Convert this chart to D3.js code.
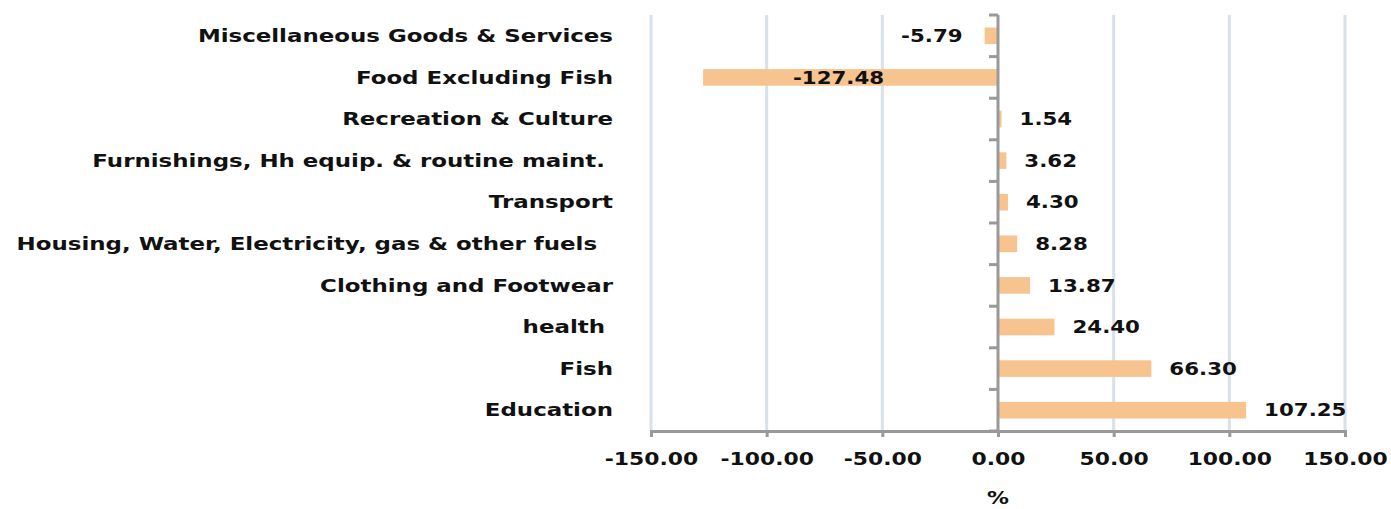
<!DOCTYPE html>
<html>
<head>
<meta charset="utf-8">
<script src="https://cdn.jsdelivr.net/npm/d3@7"></script>
<style>
  body { margin: 0; background: #fff; }
  text { font-family: "DejaVu Sans", Verdana, sans-serif; font-weight: bold; fill: #111; white-space: pre; }
</style>
</head>
<body>
<script>
// categories top to bottom, as in the chart
const categories = [
  "Miscellaneous Goods & Services",
  "Food Excluding Fish",
  "Recreation & Culture",
  "Furnishings, Hh equip. & routine maint. ",
  "Transport",
  "Housing, Water, Electricity, gas & other fuels  ",
  "Clothing and Footwear",
  "health ",
  "Fish",
  "Education"
];
const values = [-5.79, -127.48, 1.54, 3.62, 4.30, 8.28, 13.87, 24.40, 66.30, 107.25];
const xTicks = [-150, -100, -50, 0, 50, 100, 150];
const xTitle = "%";

const W = 1391, H = 509;
const margin = {top: 15, right: 46, bottom: 78, left: 651};
const width = W - margin.left - margin.right;
const height = H - margin.top - margin.bottom;

const svg = d3.select("body").append("svg")
   .attr("width", W)
   .attr("height", H)
   .append("g")
   .attr("transform", "translate(" + margin.left + "," + margin.top + ")");

const x = d3.scaleLinear()
   .domain([-150, 150])
   .range([0, width]);

const y = d3.scaleBand()
   .domain(categories)
   .range([0, height])
   .paddingInner(0.6)
   .paddingOuter(0.3);

// the original text is wide, so stretch it sideways
const stretch = (sx) => function(d) {
  const t = d3.select(this);
  const tx = +t.attr("x") || 0, ty = +t.attr("y") || 0;
  t.attr("x", 0).attr("y", 0)
   .attr("transform", "translate(" + tx + "," + ty + ") scale(" + sx + ",1)");
};

// gridlines
svg.selectAll("line.grid")
   .data(xTicks.filter(t => t !== 0))
   .enter()
   .append("line")
   .attr("class", "grid")
   .attr("x1", d => x(d)).attr("x2", d => x(d))
   .attr("y1", 0).attr("y2", height)
   .style("stroke", "#d7e1e9")
   .style("stroke-width", 3);

// bars
svg.selectAll("rect")
   .data(values)
   .enter()
   .append("rect")
   .attr("x", d => Math.min(x(0), x(d)))
   .attr("y", (d, i) => y(categories[i]))
   .attr("width", d => Math.abs(x(d) - x(0)))
   .attr("height", y.bandwidth())
   .style("fill", "#f7c490");

// x axis
const fmt = d => d3.format(".2f")(d).replace("\u2212", "-");
const xAxis = svg.append("g")
   .attr("transform", "translate(0," + height + ")")
   .call(d3.axisBottom(x).tickValues(xTicks).tickSize(6).tickPadding(16).tickFormat(fmt));
xAxis.select(".domain").style("stroke", "#999").style("stroke-width", 3);
xAxis.selectAll(".tick line").style("stroke", "#999").style("stroke-width", 3);
xAxis.selectAll("text")
   .attr("fill", "#111")
   .style("font-size", "17.5px")
   .each(function() {
     const t = d3.select(this);
     t.attr("transform", "scale(1.25,1)");
   });

// y axis at zero with boundary ticks on the left
const yAxis = svg.append("g").attr("transform", "translate(" + x(0) + ",0)");
yAxis.append("line")
   .attr("y1", 0).attr("y2", height)
   .style("stroke", "#999").style("stroke-width", 3);
const step = height / categories.length;
yAxis.selectAll("line.tk")
   .data(d3.range(categories.length + 1))
   .enter()
   .append("line")
   .attr("class", "tk")
   .attr("x1", -9).attr("x2", 0)
   .attr("y1", d => d * step).attr("y2", d => d * step)
   .style("stroke", "#999").style("stroke-width", 3);

// category labels
svg.selectAll("text.cat")
   .data(categories)
   .enter()
   .append("text")
   .attr("class", "cat")
   .attr("x", -38)
   .attr("y", d => y(d) + y.bandwidth() / 2)
   .attr("dy", "0.35em")
   .attr("text-anchor", "end")
   .style("font-size", "17.5px")
   .text(d => d)
   .each(stretch(1.31));

// value labels
const outside = d => d >= 0 || x(d) - 90 >= 0;
svg.selectAll("text.val")
   .data(values)
   .enter()
   .append("text")
   .attr("class", "val")
   .attr("x", d => d >= 0 ? x(d) + 18 : (outside(d) ? x(d) - 22 : x(d / 2) - 12))
   .attr("y", (d, i) => y(categories[i]) + y.bandwidth() / 2)
   .attr("dy", "0.35em")
   .attr("text-anchor", d => d >= 0 ? "start" : (outside(d) ? "end" : "middle"))
   .style("font-size", "17.5px")
   .text(d => d.toFixed(2))
   .each(stretch(1.22));

// axis title
svg.append("text")
   .attr("x", x(0))
   .attr("y", height + 73)
   .attr("text-anchor", "middle")
   .style("font-size", "17.5px")
   .text(xTitle)
   .each(stretch(1.25));
</script>
</body>
</html>
